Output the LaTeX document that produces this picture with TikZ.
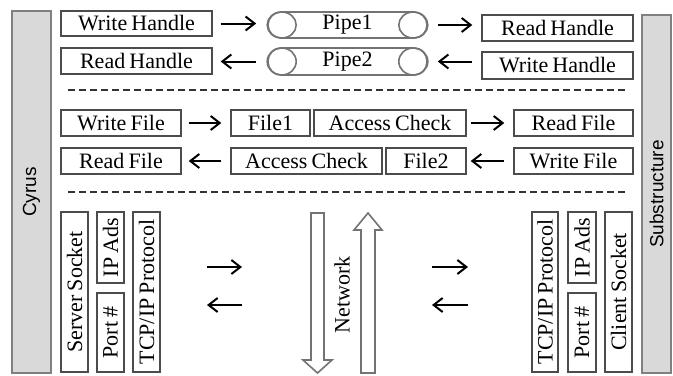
\documentclass[tikz,border=0pt]{standalone}
\usepackage{fontspec}
\setmainfont{Liberation Serif}[WordSpace=0.75]
\newfontfamily\labelsans{Liberation Sans}
\usetikzlibrary{arrows.meta}
\newcommand{\hbx}[6]{\node[box, minimum width={(#4-#2)*0.5pt}, minimum height={(#5-#3)*0.5pt}] (#1) at ({(#2+#4)/2},{(#3+#5)/2}) {#6};}
\newcommand{\vbx}[6]{\node[box, vfont, rotate=90, minimum width={(#5-#3)*0.5pt}, minimum height={(#4-#2)*0.5pt}] (#1) at ({(#2+#4)/2},{(#3+#5)/2}) {#6};}
\begin{document}
\begin{tikzpicture}[x=0.5pt,y=-0.5pt,
  box/.style={draw=black!70, line width=0.7pt, fill=white, inner sep=0pt, font=\rmfamily\fontsize{11}{13}\selectfont, text=black},
  vfont/.style={font=\rmfamily\fontsize{11}{13}\selectfont},
  pipebox/.style={draw=black!55, line width=0.8pt, rounded corners=6.5pt, inner sep=0pt, font=\rmfamily\fontsize{11}{13}\selectfont},
  pipeend/.style={draw=black!55, line width=0.8pt},
  arr/.style={-{Straight Barb[length=4.5pt,width=7pt]}, line width=1pt},
  sep/.style={dash pattern=on 3.5pt off 2pt, line width=0.9pt, black!80},
  bar/.style={draw=black!50, fill=black!15, line width=0.8pt, inner sep=0pt, font=\labelsans\fontsize{9.5}{11}\selectfont},
  blk/.style={draw=black!55, fill=white, line width=0.8pt}]
\useasboundingbox (0,0) rectangle (673,375);

% side bars
\node[bar, rotate=90, minimum width={(373-11)*0.5pt}, minimum height={(51-12)*0.5pt}] (cyrus) at (31.5,192) {Cyrus};
\node[bar, rotate=90, minimum width={(373-15)*0.5pt}, minimum height={(671-642)*0.5pt}] (subs) at (656.5,194) {Substructure};

% pipes row
\hbx{wh1}{61}{11}{212}{36}{Write Handle}
\hbx{rh1}{61}{48}{212}{74}{Read Handle}
\hbx{rh2}{482}{15}{633}{41}{Read Handle}
\hbx{wh2}{482}{52}{633}{79}{Write Handle}
\node[pipebox, minimum width={(427-268)*0.5pt}, minimum height={26*0.5pt}] (p1) at (347.5,25) {Pipe1};
\node[pipebox, minimum width={(427-268)*0.5pt}, minimum height={27*0.5pt}] (p2) at (347.5,61.5) {Pipe2};
\draw[pipeend] ([xshift=7.25pt]p1.west) ellipse [x radius=7.25pt, y radius=6.5pt];
\draw[pipeend] ([xshift=-7.25pt]p1.east) ellipse [x radius=7.25pt, y radius=6.5pt];
\draw[pipeend] ([xshift=7.25pt]p2.west) ellipse [x radius=7.25pt, y radius=6.75pt];
\draw[pipeend] ([xshift=-7.25pt]p2.east) ellipse [x radius=7.25pt, y radius=6.75pt];

\draw[arr, shorten <=4pt, shorten >=5.5pt] (wh1.east) -- (wh1.east -| p1.west);
\draw[arr, shorten <=5pt, shorten >=4.5pt] (p1.east) -- (p1.east -| rh2.west);
\draw[arr, shorten <=5.5pt, shorten >=4pt] (p2.west) -- (p2.west -| rh1.east);
\draw[arr, shorten <=4.5pt, shorten >=5pt] (p2.east -| wh2.west) -- (p2.east);

\draw[sep] (68,90) -- (625,90);

% files row
\hbx{wf1}{61}{110}{181}{136}{Write File}
\hbx{rf1}{61}{148}{181}{174}{Read File}
\hbx{f1}{231}{110}{310}{136}{File1}
\hbx{ac1}{314}{110}{466}{136}{Access Check}
\hbx{rf2}{514}{110}{633}{136}{Read File}
\hbx{ac2}{231}{148}{382}{174}{Access Check}
\hbx{f2}{386}{148}{466}{174}{File2}
\hbx{wf2}{514}{148}{633}{174}{Write File}

\draw[arr, shorten <=3.5pt, shorten >=4.5pt] (wf1.east) -- (f1.west);
\draw[arr, shorten <=2pt, shorten >=4.5pt] (ac1.east) -- (rf2.west);
\draw[arr, shorten <=4.5pt, shorten >=3.5pt] (ac2.west) -- (rf1.east);
\draw[arr, shorten <=4.5pt, shorten >=2pt] (wf2.west) -- (f2.east);

\draw[sep] (68,192) -- (625,192);

% sockets row
\vbx{ss}{61}{212}{88}{372}{Server Socket}
\vbx{ip1}{97}{212}{124}{283}{IP Ads}
\vbx{pt1}{97}{293}{124}{372}{Port \#}
\vbx{tcp1}{133}{212}{160}{372}{TCP/IP Protocol}
\vbx{tcp2}{532}{212}{558}{372}{TCP/IP Protocol}
\vbx{ip2}{568}{212}{596}{283}{IP Ads}
\vbx{pt2}{568}{293}{596}{372}{Port \#}
\vbx{cs}{605}{212}{632}{372}{Client Socket}

% network block arrows
\draw[blk] (311,213) -- (324,213) -- (324,360) -- (332,360) -- (317.5,373) -- (303,360) -- (311,360) -- cycle;
\draw[blk] (361,373) -- (375,373) -- (375,230) -- (382,230) -- (368,213) -- (354,230) -- (361,230) -- cycle;
\node[rotate=90, inner sep=0pt, font=\rmfamily\fontsize{11}{13}\selectfont] (net) at (342,295) {Network};

\coordinate (la1) at (207,267); \coordinate (lb1) at (242,267);
\coordinate (la2) at (207,305); \coordinate (lb2) at (242,305);
\coordinate (ra1) at (432,267); \coordinate (rb1) at (468,267);
\coordinate (ra2) at (432,305); \coordinate (rb2) at (468,305);
\draw[arr] (la1) -- (lb1);
\draw[arr] (lb2) -- (la2);
\draw[arr] (ra1) -- (rb1);
\draw[arr] (rb2) -- (ra2);
\end{tikzpicture}
\end{document}
